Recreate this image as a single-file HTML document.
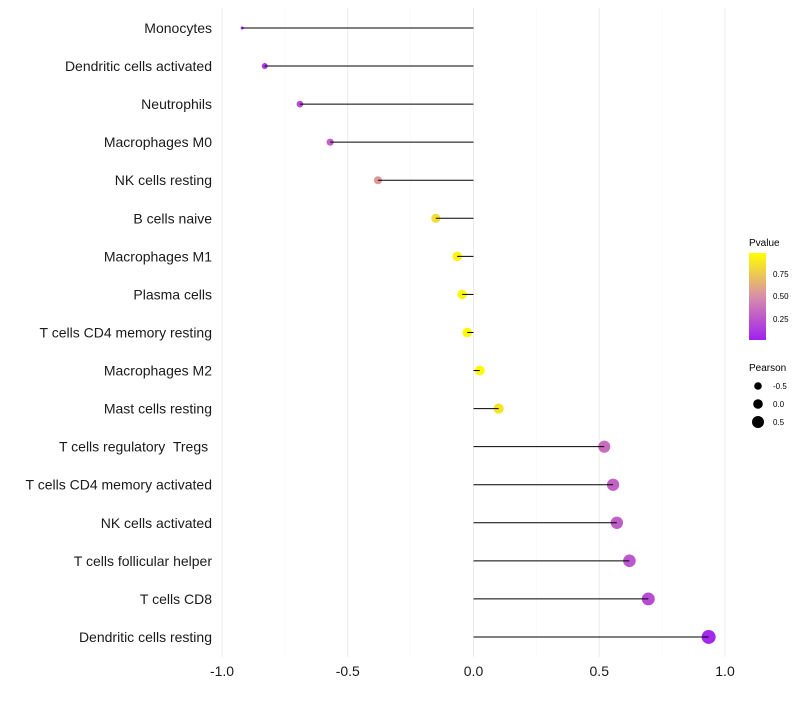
<!DOCTYPE html>
<html><head><meta charset="utf-8"><style>
body{margin:0;background:#fff;font-family:"Liberation Sans",Arial,sans-serif}
text{white-space:pre}
</style></head><body>
<svg id="chart" width="800" height="700" xmlns="http://www.w3.org/2000/svg" font-family="Liberation Sans, Arial, sans-serif">
<defs><linearGradient id="pg" x1="0" y1="1" x2="0" y2="0">
<stop offset="0" stop-color="#a020f0"/><stop offset="0.5" stop-color="#d98ea9"/><stop offset="1" stop-color="#ffff00"/></linearGradient></defs>
<g id="grid"></g>
<g id="points"></g>
<g id="marks"></g>
<g id="ylabels"></g>
<g id="xlabels"></g>
<g>
<text x="749" y="246" font-size="10" fill="#000">Pvalue</text>
<rect x="749" y="253" width="17" height="87" fill="url(#pg)"/>
<text x="773" y="277" font-size="8">0.75</text>
<text x="773" y="299" font-size="8">0.50</text>
<text x="773" y="322" font-size="8">0.25</text>
</g>
<g>
<text x="749" y="371" font-size="10">Pearson</text>
<circle cx="758" cy="386" r="3.8" fill="#000"/><text x="773" y="389" font-size="8">-0.5</text>
<circle cx="758" cy="404" r="4.8" fill="#000"/><text x="773" y="407" font-size="8">0.0</text>
<circle cx="758" cy="422" r="6" fill="#000"/><text x="773" y="425" font-size="8">0.5</text>
</g>
</svg>
<script>
const categories=["Monocytes","Dendritic cells activated","Neutrophils","Macrophages M0","NK cells resting","B cells naive","Macrophages M1","Plasma cells","T cells CD4 memory resting","Macrophages M2","Mast cells resting","T cells regulatory  Tregs ","T cells CD4 memory activated","NK cells activated","T cells follicular helper","T cells CD8","Dendritic cells resting"];
const pearson=[-0.92,-0.83,-0.69,-0.57,-0.38,-0.15,-0.065,-0.045,-0.025,0.025,0.1,0.52,0.555,0.57,0.62,0.695,0.935];
const pvalue=[0.03,0.1,0.2,0.3,0.55,0.85,0.95,0.97,0.98,0.97,0.88,0.35,0.3,0.28,0.25,0.2,0.04];
const xTicks=[-1,-0.5,0,0.5,1];
const xTickLabels=["-1.0","-0.5","0.0","0.5","1.0"];
const NS="http://www.w3.org/2000/svg";
const x=v=>473.5+v*251.5;
const y=i=>28+i*38.06;
const rad=v=>v<-0.86?1.5:3+2.27*(v+0.83);
function col(p){
  const s=[[0,[160,32,240]],[0.5,[217,142,169]],[1,[255,255,0]]];
  let a=s[0],b=s[1];if(p>0.5){a=s[1];b=s[2];}
  const t=(p-a[0])/(b[0]-a[0]);
  return "rgb("+a[1].map((c,k)=>Math.round(c+(b[1][k]-c)*t)).join(",")+")";
}
function mk(tag,at,parent){const e=document.createElementNS(NS,tag);for(const k in at)e.setAttribute(k,at[k]);document.getElementById(parent).appendChild(e);return e;}
[-1,-0.75,-0.5,-0.25,0,0.25,0.5,0.75,1].forEach((v,i)=>{
  const l=mk("line",{x1:x(v),x2:x(v),y1:8,y2:657,stroke:i%2?"#f6f6f6":"#ececec","stroke-width":i%2?0.6:1},"grid");
  
  
});
categories.forEach((c,i)=>{
  const t=mk("text",{x:212,y:y(i)+5,"text-anchor":"end","font-size":14,fill:"#1a1a1a"},"ylabels");
  t.textContent=c;
  
  
  const ci=mk("circle",{cx:x(pearson[i]),cy:y(i),r:rad(pearson[i]),fill:col(pvalue[i])},"points");
  
  
  const ln=mk("line",{x1:x(0),x2:x(pearson[i]),y1:y(i),y2:y(i),stroke:"#000","stroke-width":1},"marks");
  
  
});
xTicks.forEach((v,i)=>{
  const t=mk("text",{x:x(v),y:676,"text-anchor":"middle","font-size":14,fill:"#1a1a1a"},"xlabels");
  t.textContent=xTickLabels[i];
  
  
});
</script>
</body></html>
